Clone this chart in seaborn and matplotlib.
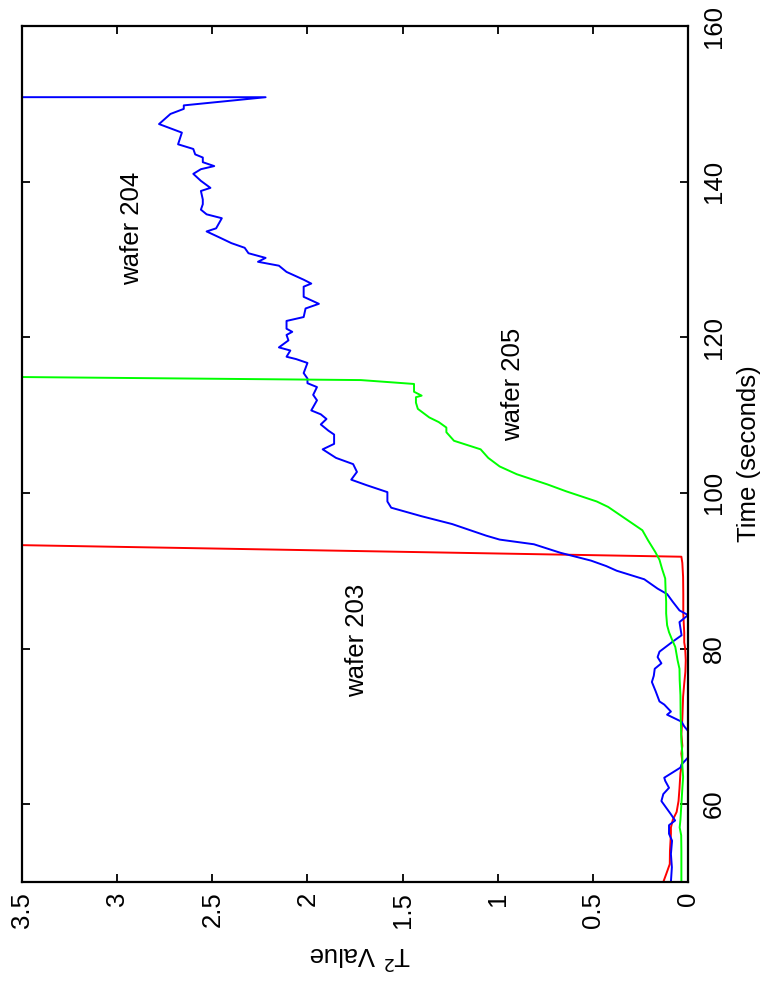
import numpy as np
import pandas as pd
import seaborn as sns
import matplotlib
matplotlib.use("Agg")
import matplotlib.pyplot as plt

# wafer 203 (red)
t203 = [50.0, 51.0, 52.3, 54.0, 56.2, 57.0, 58.0, 59.0, 60.4, 62.0, 64.0, 65.5, 66.5, 67.5,
        69.0, 71.0, 73.8, 75.5, 77.0, 78.5, 80.0, 80.8, 82.0, 84.5, 87.0, 89.2, 91.0, 91.8, 93.5]
v203 = [0.13, 0.115, 0.096, 0.095, 0.09, 0.09, 0.08, 0.06, 0.05, 0.045, 0.04, 0.03, 0.035, 0.03,
        0.035, 0.03, 0.026, 0.02, 0.014, 0.012, 0.015, 0.02, 0.02, 0.025, 0.025, 0.026, 0.03, 0.035, 4.0]

# wafer 204 (blue)
t204 = [50.0, 51.9, 53.6, 55.3, 56.2, 57.3, 57.9, 58.7, 60.4, 61.3, 62.1, 63.0, 63.4, 64.7, 65.1,
        66.0, 66.8, 68.0, 69.0, 69.4, 70.0, 70.6, 71.5, 71.9, 72.8, 73.2, 74.5, 75.7, 76.5, 77.4,
        78.1, 78.9, 79.6, 80.9, 81.7, 83.4, 84.3, 84.9, 86.0, 87.0, 87.7, 88.9, 90.0, 90.6, 91.3,
        92.3, 93.4, 94.0, 94.5, 96.0, 97.0, 98.1, 98.9, 100.1, 101.0, 101.7, 102.7, 103.7, 104.5,
        105.6, 106.3, 107.5, 108.0, 108.8, 109.5, 110.1, 110.6, 111.9, 112.6, 113.6, 114.1, 114.7,
        115.4, 116.7, 117.2, 117.5, 118.3, 118.7, 119.6, 120.3, 120.7, 121.1, 122.1, 122.6, 123.7,
        124.3, 125.2, 126.5, 126.9, 127.4, 128.4, 129.2, 129.7, 130.2, 130.4, 130.8, 131.5, 132.1,
        132.8, 133.6, 134.0, 135.3, 135.8, 136.4, 137.1, 137.7, 138.8, 139.2, 140.1, 141.0, 141.6,
        142.0, 142.5, 143.1, 143.5, 144.2, 144.8, 146.3, 147.4, 148.7, 149.35, 149.8, 150.85, 150.95]
v204 = [0.09, 0.085, 0.09, 0.084, 0.10, 0.10, 0.068, 0.09, 0.14, 0.13, 0.10, 0.12, 0.125, 0.04, 0.034,
        0.0, -0.05, -0.08, -0.03, 0.0, 0.02, 0.034, 0.11, 0.09, 0.125, 0.15, 0.17, 0.19, 0.18, 0.175,
        0.14, 0.16, 0.15, 0.08, 0.034, 0.045, 0.0, 0.045, 0.08, 0.11, 0.16, 0.23, 0.375, 0.43, 0.51,
        0.67, 0.81, 0.99, 1.06, 1.24, 1.40, 1.56, 1.58, 1.58, 1.69, 1.77, 1.74, 1.76, 1.85,
        1.92, 1.86, 1.86, 1.89, 1.93, 1.90, 1.93, 1.98, 1.95, 1.97, 1.95, 2.00, 2.00,
        2.02, 2.00, 2.06, 2.11, 2.09, 2.15, 2.10, 2.11, 2.08, 2.11, 2.11, 2.02, 2.01,
        1.94, 2.02, 2.02, 1.98, 2.02, 2.11, 2.15, 2.26, 2.22, 2.25, 2.31, 2.33, 2.40,
        2.46, 2.53, 2.48, 2.45, 2.53, 2.56, 2.55, 2.55, 2.56, 2.51, 2.56, 2.60, 2.56,
        2.49, 2.55, 2.55, 2.59, 2.60, 2.68, 2.66, 2.78, 2.72, 2.65, 2.65, 2.22, 30.0]

# wafer 205 (green)
t205 = [50, 52, 54, 56, 57, 58, 60, 62, 63.5, 65, 66.5, 68, 70, 71.6, 74, 76, 77.4, 78.5, 80.2,
        81.2, 82.1, 83.0, 84.5, 86.0, 87.5, 89.0, 90.2, 91.4, 92.4, 93.9, 95.2, 96.2, 97.2, 98.2,
        98.9, 100.2, 101.1, 102.4, 103.4, 104.5, 105.6, 106.7, 107.8, 108.4, 109.1, 109.7, 110.8,
        111.6, 112.3, 112.5, 113.0, 114.0, 114.5, 115.0]
v205 = [0.035, 0.035, 0.035, 0.036, 0.044, 0.04, 0.035, 0.03, 0.026, 0.03, 0.03, 0.035, 0.037, 0.039,
        0.04, 0.044, 0.045, 0.055, 0.067, 0.085, 0.10, 0.11, 0.115, 0.115, 0.118, 0.12, 0.136, 0.15,
        0.172, 0.21, 0.24, 0.30, 0.36, 0.42, 0.48, 0.64, 0.74, 0.90, 0.99, 1.05, 1.09, 1.23, 1.27,
        1.27, 1.31, 1.36, 1.42, 1.43, 1.43, 1.40, 1.44, 1.44, 1.72, 4.0]

x_ticks = [0, 0.5, 1, 1.5, 2, 2.5, 3, 3.5]
x_tick_labels = ["0", "0.5", "1", "1.5", "2", "2.5", "3", "3.5"]
y_ticks = [60, 80, 100, 120, 140, 160]

sns.set_style("ticks")
plt.rcParams['font.family'] = ['Liberation Sans', 'DejaVu Sans']
plt.rcParams['text.color'] = 'black'
plt.rcParams['axes.labelcolor'] = 'black'
plt.rcParams['xtick.color'] = 'black'
plt.rcParams['ytick.color'] = 'black'
fs = 18.5

fig = plt.figure(figsize=(7.65, 9.89), dpi=100)
ax = fig.add_axes([0.0288, 0.1082, 0.8706, 0.8655])

for t, v, c in [(t203, v203, '#ff0000'), (t204, v204, '#0000ff'), (t205, v205, '#00ff00')]:
    df = pd.DataFrame({'t': t, 'v': v})
    sns.lineplot(data=df, x='v', y='t', sort=False, estimator=None, color=c, linewidth=1.4, ax=ax)

ax.set_xlim(3.5, 0)
ax.set_ylim(50, 160)
ax.set_xticks(x_ticks)
ax.set_xticklabels(x_tick_labels, rotation=90, fontsize=fs)
ax.set_yticks(y_ticks)
ax.yaxis.tick_right()
ax.set_yticklabels([str(y) for y in y_ticks], rotation=90, va='center', fontsize=fs)
ax.tick_params(axis='both', direction='in', length=6, width=1.3, top=True, left=True,
               right=True, bottom=True, color='black', labelcolor='black')
ax.tick_params(axis='x', pad=7)
ax.tick_params(axis='y', pad=10)
for s in ax.spines.values():
    s.set_linewidth(1.6)
    s.set_color('black')

ax.set_xlabel("T$^2$ Value", rotation=180, fontsize=fs, va='center', ha='center', color='black')
ax.xaxis.set_label_coords(0.5075, -0.0853)
ax.yaxis.set_label_position('right')
ax.set_ylabel("Time (seconds)", rotation=90, fontsize=fs, color='black')
ax.yaxis.label.set_va('center')
ax.yaxis.label.set_ha('center')
ax.yaxis.set_label_coords(1.092, 0.5)

ax.text(1.74, 81.1, "wafer 203", rotation=90, ha='center', va='center', fontsize=fs, color='black')
ax.text(2.92, 134.0, "wafer 204", rotation=90, ha='center', va='center', fontsize=fs, color='black')
ax.text(0.92, 114.0, "wafer 205", rotation=90, ha='center', va='center', fontsize=fs, color='black')

fig.savefig("out.png", dpi=100)
